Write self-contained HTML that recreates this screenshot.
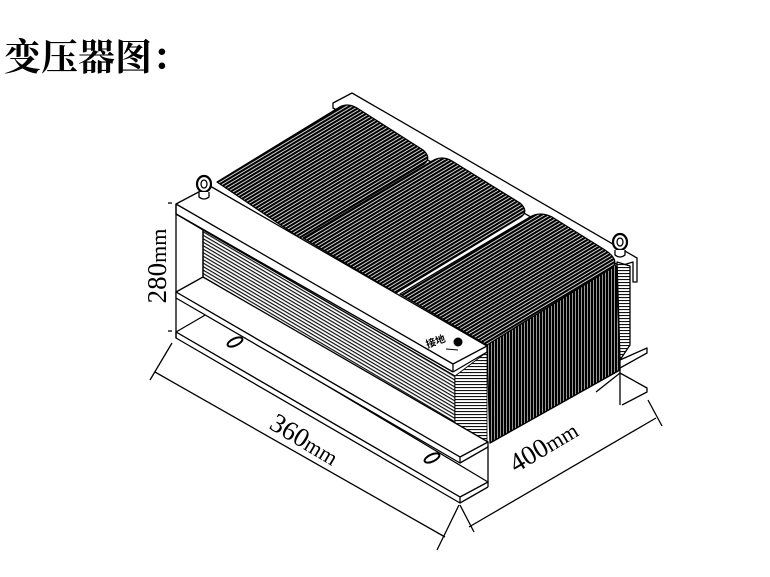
<!DOCTYPE html>
<html><head><meta charset="utf-8"><style>
html,body{margin:0;padding:0;background:#fff;}
body{width:770px;height:577px;overflow:hidden;position:relative;}
.t{position:absolute;left:4px;top:37px;font-family:"Liberation Serif","Noto Serif CJK SC",serif;font-size:37px;font-weight:bold;line-height:44px;color:#000;}
svg{position:absolute;left:0;top:0;}
</style></head><body>
<div class="t">变压器图：</div>
<svg width="770" height="577" viewBox="0 0 770 577" font-family="Liberation Serif, serif">
<defs>
<pattern id="c1" width="3" height="3" patternUnits="userSpaceOnUse" patternTransform="rotate(-31)">
<rect width="3" height="3" fill="#fff"/><rect width="3" height="2.2" fill="#000"/></pattern>
<pattern id="c3" width="3" height="3" patternUnits="userSpaceOnUse">
<rect width="3" height="3" fill="#fff"/><rect width="2.4" height="3" fill="#000"/></pattern>
<pattern id="lam" width="3" height="3" patternUnits="userSpaceOnUse" patternTransform="rotate(30.5)">
<rect width="3" height="3" fill="#fff"/><rect width="3" height="1.2" fill="#111"/></pattern>
<pattern id="lamr" width="3" height="3" patternUnits="userSpaceOnUse">
<rect width="3" height="3" fill="#fff"/><rect width="3" height="1.1" fill="#111"/></pattern>
</defs>
<g stroke="#000" stroke-width="1.3" fill="none" stroke-linejoin="round">
<polygon points="333,103 352,93 637,258 637,282 633,282 633,262 620,266 333,108" fill="#fff"/>
<polygon points="617,262 630,266 630,345 620,360" fill="url(#lamr)"/>
<polygon points="620,360 647,348 647,353 620,368" fill="#fff"/>
<polyline points="596,392 620,373 647,388 647,392 622,405"/>
<line x1="620" y1="368" x2="620" y2="405"/>
<polygon points="176,332 207,314 488,482 460,497" fill="#fff"/>
<polygon points="176,332 460,497 460,503 176,338" fill="#fff"/>
<line x1="460" y1="503" x2="488" y2="487"/>
<line x1="488" y1="442" x2="488" y2="487"/>
<ellipse cx="235" cy="342" rx="8" ry="3.5" transform="rotate(-25 235 342)" stroke-width="2"/>
<ellipse cx="432" cy="458" rx="8" ry="3.5" transform="rotate(-25 432 458)" stroke-width="2"/>
<path d="M217,182 L338,108 Q347,102 357,108 L423,150 Q432,158 424,164 L300,238 Z" fill="url(#c1)"/>
<path d="M303,238 L432,161 Q442,155 452,161 L520,203 Q529,211 521,217 L396,293 Z" fill="url(#c1)"/>
<path d="M487,345 L600,265 Q612,258 617,268 L620,370 L490,443 Z" fill="url(#c3)"/>
<path d="M400,294 L530,217 Q540,211 552,217 L605,250 Q620,260 612,268 L487,345 Z" fill="url(#c1)"/>
<polygon points="176,204 210,186 487,346 487,352 453,372 176,214" fill="#fff"/>
<polygon points="176,214 453,372 455,376 460,457 176,292" fill="#fff" stroke="none"/>
<polygon points="203,230 455,376 455,446 203,297" fill="url(#lam)"/>
<polygon points="455,376 487,352 487,442 460,457 455,446" fill="url(#lamr)" stroke-width="0.8"/>
<line x1="176" y1="204" x2="453" y2="364"/>
<line x1="453" y1="364" x2="453" y2="372"/>
<line x1="453" y1="364" x2="487" y2="346"/>
<line x1="176" y1="214" x2="453" y2="372"/>
<line x1="176" y1="204" x2="176" y2="338"/>
<line x1="176" y1="214" x2="203" y2="230"/>
<line x1="203" y1="230" x2="203" y2="297"/>
<polygon points="176,292 203,277 488,442 460,457" fill="#fff"/>
<polygon points="176,292 460,457 460,463 176,298" fill="#fff"/>
<line x1="460" y1="463" x2="488" y2="447"/>
<ellipse cx="204" cy="184" rx="7" ry="8" fill="#fff" stroke-width="2.2"/><ellipse cx="204" cy="184" rx="3" ry="4"/>
<path d="M199,192 L199,197 Q204,201 209,197 L209,192" fill="#fff"/>
<ellipse cx="620" cy="242" rx="7" ry="8" fill="#fff" stroke-width="2.2"/><ellipse cx="620" cy="242" rx="3" ry="4"/>
<path d="M615,250 L615,255 Q620,259 625,255 L625,250" fill="#fff"/>
<line x1="168" y1="203" x2="172" y2="203"/><line x1="168" y1="331" x2="172" y2="331"/>
<line x1="155" y1="372" x2="445" y2="537"/>
<line x1="150" y1="380" x2="172" y2="343"/>
<line x1="437" y1="550" x2="459" y2="505"/>
<line x1="469" y1="527" x2="656" y2="418"/>
<line x1="460" y1="505" x2="474" y2="532"/>
<line x1="648" y1="400" x2="662" y2="426"/>
</g>
<circle cx="458" cy="342" r="4.5" fill="#000"/>
<path d="M446,349 L458,350" stroke="#000" stroke-width="1"/>
<text x="425" y="345" font-size="10" font-family="Noto Sans CJK SC, sans-serif" font-weight="bold" transform="rotate(-20 435 340)">接地</text>
<text transform="translate(166,266) rotate(-90)" text-anchor="middle" font-size="27">280<tspan font-size="22">mm</tspan></text>
<text transform="translate(300,447) rotate(31)" text-anchor="middle" font-size="27">360<tspan font-size="22">mm</tspan></text>
<text transform="translate(548,454) rotate(-31)" text-anchor="middle" font-size="27">400<tspan font-size="22">mm</tspan></text>
</svg>
</body></html>
